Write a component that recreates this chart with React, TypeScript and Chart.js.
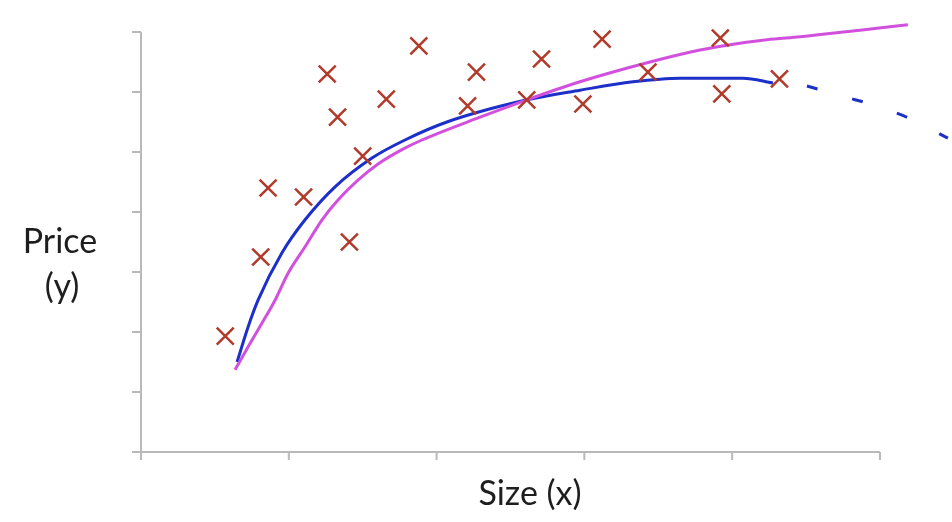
import React, { useEffect, useRef } from "react";
import { Chart, registerables } from "chart.js";

Chart.register(...registerables);

// Training examples (size, price)
const sizeX = [0.57, 0.81, 0.86, 1.1, 1.26, 1.33, 1.41, 1.5, 1.66, 1.88, 2.21, 2.27, 2.61, 2.71, 2.99, 3.12, 3.43, 3.92, 3.93, 4.32];
const priceY = [1.93, 3.25, 4.4, 4.25, 6.3, 5.58, 3.5, 4.93, 5.88, 6.77, 5.77, 6.33, 5.87, 6.55, 5.8, 6.88, 6.33, 6.9, 5.97, 6.22];

// Blue fit, solid part
const blueX = [0.65, 0.724, 0.792, 0.954, 1.11, 1.313, 1.563, 1.786, 2.07, 2.612, 2.97, 3.329, 3.647, 4.073, 4.276];
const blueY = [1.5, 2.08, 2.53, 3.32, 3.87, 4.42, 4.9, 5.2, 5.5, 5.87, 6.03, 6.17, 6.23, 6.23, 6.15];

// Blue fit, dashed continuation
const blueDashX = [4.506, 4.76, 4.973, 5.21, 5.46];
const blueDashY = [6.1, 5.92, 5.77, 5.55, 5.23];

// Magenta fit
const magentaX = [0.636, 0.724, 0.819, 0.907, 0.995, 1.11, 1.225, 1.333, 1.468, 1.604, 1.766, 1.901, 2.294, 2.612, 2.97, 3.444, 3.782, 3.965, 4.235, 4.459, 4.865, 5.189];
const magentaY = [1.37, 1.75, 2.15, 2.53, 2.98, 3.42, 3.87, 4.2, 4.53, 4.8, 5.04, 5.2, 5.58, 5.87, 6.17, 6.5, 6.7, 6.78, 6.87, 6.92, 7.03, 7.12];

const xTicks = [0, 1, 2, 3, 4, 5];
const yTicks = [0, 1, 2, 3, 4, 5, 6, 7];

const xTitle = "Size (x)";
const yTitleLines = ["Price", "(y)"];

const toPts = (xs: number[], ys: number[]) => xs.map((v, i) => ({ x: v, y: ys[i] }));

const handAxes = {
  id: "handAxes",
  beforeDatasetsDraw(chart: any) {
    const { ctx } = chart;
    const xs = chart.scales.x;
    const ys = chart.scales.y;
    const x0 = xs.getPixelForValue(xTicks[0]);
    const x1 = xs.getPixelForValue(xTicks[xTicks.length - 1]);
    const y0 = ys.getPixelForValue(yTicks[0]);
    const y1 = ys.getPixelForValue(yTicks[yTicks.length - 1]);
    ctx.save();
    ctx.strokeStyle = "#b9b9b9";
    ctx.lineWidth = 2;
    ctx.beginPath();
    ctx.moveTo(x0 - 9, y0);
    ctx.lineTo(x1, y0);
    ctx.moveTo(x0, y0 + 8);
    ctx.lineTo(x0, y1);
    xTicks.forEach((t) => {
      const p = xs.getPixelForValue(t);
      ctx.moveTo(p, y0);
      ctx.lineTo(p, y0 + 8);
    });
    yTicks.forEach((t) => {
      const p = ys.getPixelForValue(t);
      ctx.moveTo(x0 - 9, p);
      ctx.lineTo(x0, p);
    });
    ctx.stroke();
    ctx.restore();
  },
  afterDraw(chart: any) {
    const { ctx, chartArea } = chart;
    const ys = chart.scales.y;
    const y0 = ys.getPixelForValue(yTicks[0]);
    ctx.save();
    ctx.fillStyle = "#1e1e1e";
    ctx.font = "34px Lato";
    ctx.textAlign = "center";
    ctx.textBaseline = "middle";
    ctx.fillText(xTitle, chartArea.left + 389, y0 + 42);
    ctx.fillText(yTitleLines[0], chartArea.left - 81, 242);
    ctx.fillText(yTitleLines[1], chartArea.left - 79, 287);
    ctx.restore();
  },
};

export default function App() {
  const ref = useRef<HTMLCanvasElement | null>(null);
  useEffect(() => {
    if (!ref.current) return;
    const chart = new Chart(ref.current, {
      type: "scatter",
      data: {
        datasets: [
          {
            label: "data",
            data: toPts(sizeX, priceY),
            pointStyle: "crossRot",
            pointRadius: 12,
            pointBorderWidth: 2.5,
            borderColor: "#b23a2a",
            backgroundColor: "#b23a2a",
            showLine: false,
            order: 0,
          },
          {
            label: "magenta",
            data: toPts(magentaX, magentaY),
            showLine: true,
            borderColor: "#d250de",
            borderWidth: 3,
            pointRadius: 0,
            cubicInterpolationMode: "monotone",
            order: 1,
          },
          {
            label: "blue",
            data: toPts(blueX, blueY),
            showLine: true,
            borderColor: "#1c2fc9",
            borderWidth: 3,
            pointRadius: 0,
            cubicInterpolationMode: "monotone",
            order: 2,
          },
          {
            label: "blue dashed",
            data: toPts(blueDashX, blueDashY),
            showLine: true,
            borderColor: "#1c2fc9",
            borderWidth: 3,
            borderDash: [11, 36],
            pointRadius: 0,
            cubicInterpolationMode: "monotone",
            order: 3,
          },
        ],
      },
      options: {
        animation: false,
        responsive: true,
        maintainAspectRatio: false,
        layout: { autoPadding: false, padding: { left: 141, right: 2, top: 20, bottom: 70 } },
        plugins: { legend: { display: false }, tooltip: { enabled: false }, title: { display: false } },
        scales: {
          x: { type: "linear", min: 0, max: 5.474, display: false },
          y: { type: "linear", min: 0, max: 7.2, display: false },
        },
      },
      plugins: [handAxes],
    });
    return () => chart.destroy();
  }, []);
  return (
    <div style={{ position: "fixed", left: 0, top: 0, width: 952, height: 522, background: "#fff" }}>
      <canvas ref={ref} />
    </div>
  );
}
